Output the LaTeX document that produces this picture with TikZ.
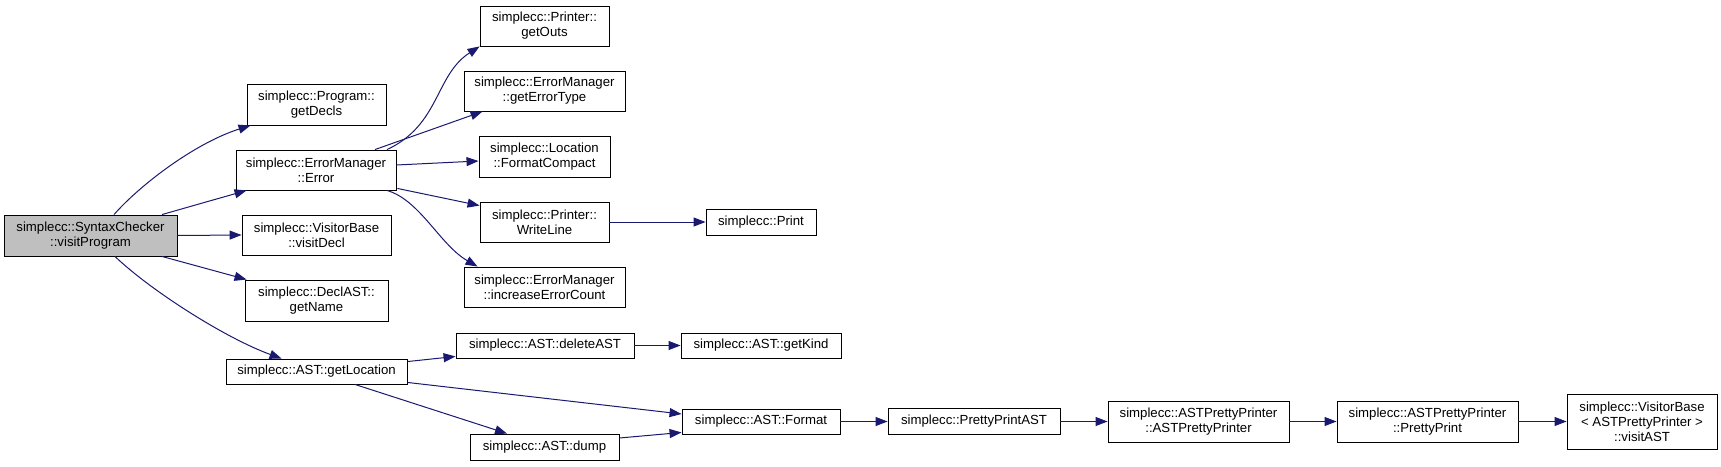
\documentclass[tikz,border=0pt]{standalone}
\usepackage{fontspec}
\setmainfont{Liberation Sans}
\usetikzlibrary{arrows.meta,calc}
\definecolor{edgec}{HTML}{191970}
\definecolor{scfill}{HTML}{BFBFBF}
\begin{document}
\begin{tikzpicture}[x=1pt,y=-1pt,
 box/.style={draw=black,line width=0.9pt,inner sep=0pt,align=center,font=\fontsize{13.2}{15}\selectfont,text=black},
 call/.style={draw=edgec,line width=1pt,-{Triangle[length=12pt,width=9pt]}},
]
\useasboundingbox (0,0) rectangle (1721,466);
\node[box,fill=scfill,minimum width=173pt,minimum height=41pt] (sc) at (90.5,235.5) {simplecc::SyntaxChecker\\::visitProgram};
\node[box,minimum width=139pt,minimum height=41pt] (gd) at (316.5,104.5) {simplecc::Program::\\getDecls};
\node[box,minimum width=160pt,minimum height=40pt] (err) at (316,170) {simplecc::ErrorManager\\::Error};
\node[box,minimum width=149pt,minimum height=40pt] (vd) at (316.5,235) {simplecc::VisitorBase\\::visitDecl};
\node[box,minimum width=143pt,minimum height=41pt] (gn) at (316.5,300.5) {simplecc::DeclAST::\\getName};
\node[box,minimum width=181pt,minimum height=25pt] (gl) at (316.5,371.5) {simplecc::AST::getLocation};
\node[box,minimum width=129pt,minimum height=40pt] (go) at (544.5,26) {simplecc::Printer::\\getOuts};
\node[box,minimum width=161pt,minimum height=40pt] (get) at (544.5,91) {simplecc::ErrorManager\\::getErrorType};
\node[box,minimum width=131pt,minimum height=41pt] (fc) at (544.5,156.5) {simplecc::Location\\::FormatCompact};
\node[box,minimum width=129pt,minimum height=40pt] (wl) at (544.5,222) {simplecc::Printer::\\WriteLine};
\node[box,minimum width=161pt,minimum height=40pt] (iec) at (544.5,287) {simplecc::ErrorManager\\::increaseErrorCount};
\node[box,minimum width=178pt,minimum height=25pt] (del) at (545,345.5) {simplecc::AST::deleteAST};
\node[box,minimum width=149pt,minimum height=26pt] (dump) at (544.5,447) {simplecc::AST::dump};
\node[box,minimum width=110pt,minimum height=26pt] (pr) at (761,222) {simplecc::Print};
\node[box,minimum width=160pt,minimum height=25pt] (gk) at (761,345.5) {simplecc::AST::getKind};
\node[box,minimum width=158pt,minimum height=25pt] (fmt) at (761,421.5) {simplecc::AST::Format};
\node[box,minimum width=172pt,minimum height=26pt] (ppa) at (974,421.5) {simplecc::PrettyPrintAST};
\node[box,minimum width=181pt,minimum height=41pt] (app) at (1198.5,421.5) {simplecc::ASTPrettyPrinter\\::ASTPrettyPrinter};
\node[box,minimum width=181pt,minimum height=41pt] (pp) at (1427.5,421.5) {simplecc::ASTPrettyPrinter\\::PrettyPrint};
\node[box,minimum width=150pt,minimum height=55pt] (va) at (1642,421.5) {simplecc::VisitorBase\\< ASTPrettyPrinter >\\::visitAST};

\draw[call] ($(sc.north)+(23.5,0)$) .. controls (140,185) and (195,143) .. ($(gd.south west)+(4,0)$);
\draw[call] ($(sc.north)+(71.5,0)$) -- ($(err.south west)+(11,0)$);
\draw[call] (sc.east) -- (vd.west);
\draw[call] ($(sc.south)+(71.5,0)$) -- ($(gn.north west)+(2,0)$);
\draw[call] ($(sc.south)+(24.5,0)$) .. controls (150,290) and (225,338) .. ($(gl.north west)+(56,0)$);
\draw[call] ($(err.north)+(71,0)$) .. controls (440,125) and (435,75) .. (go.south west);
\draw[call] ($(err.north)+(59,0)$) -- ($(get.south west)+(19,0)$);
\draw[call] ($(err.east)+(0,-5)$) -- ($(fc.west)+(0,4.5)$);
\draw[call] ($(err.south east)+(1,-2)$) -- ($(wl.north west)+(0,4)$);
\draw[call] ($(err.south)+(71,0)$) .. controls (420,200) and (440,245) .. ($(iec.north west)+(14,0)$);
\draw[call] (wl.east) -- (pr.west);
\draw[call] ($(gl.north east)+(0,3)$) -- ($(del.south west)+(0,-2)$);
\draw[call] (del.east) -- (gk.west);
\draw[call] ($(gl.south east)+(0,-2)$) -- ($(fmt.west)+(0,-7.5)$);
\draw[call] ($(gl.south)+(38.5,0)$) -- ($(dump.north)+(-37.5,0)$);
\draw[call] ($(dump.east)+(0,-9)$) -- ($(fmt.south west)+(0,-2)$);
\draw[call] (fmt.east) -- (ppa.west);
\draw[call] (ppa.east) -- (app.west);
\draw[call] (app.east) -- (pp.west);
\draw[call] (pp.east) -- (va.west);
\end{tikzpicture}
\end{document}
